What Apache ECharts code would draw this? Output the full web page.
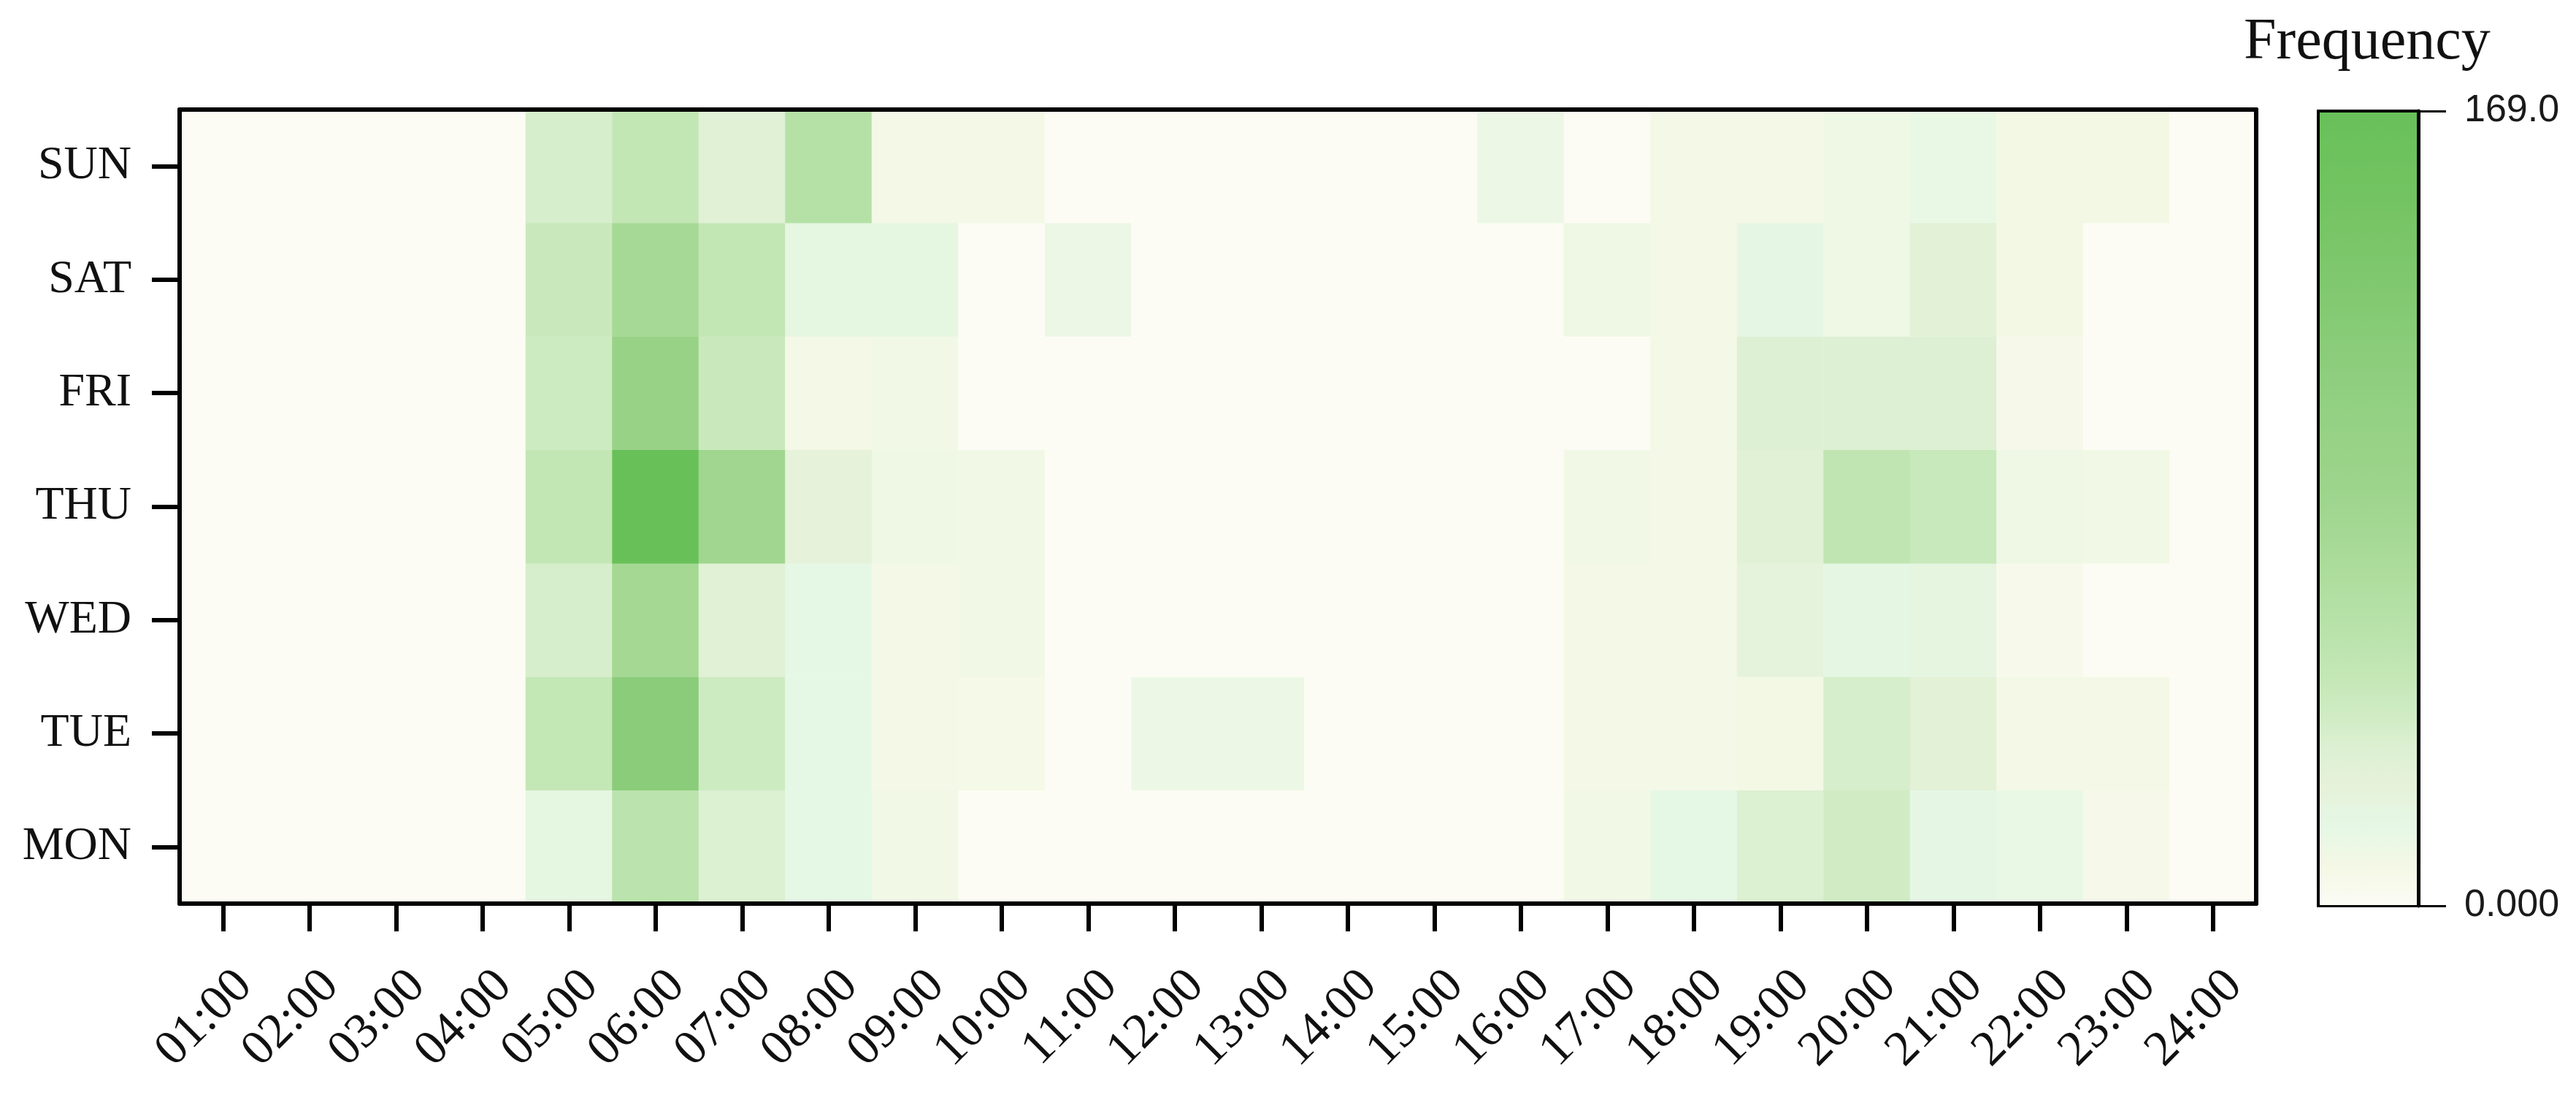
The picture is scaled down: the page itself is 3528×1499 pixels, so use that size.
<!DOCTYPE html>
<html>
<head>
<meta charset="utf-8">
<title>Frequency heatmap</title>
<script src="https://cdn.jsdelivr.net/npm/echarts@6/dist/echarts.min.js"></script>
<style>
  html, body { margin: 0; padding: 0; background: #fff; }
  #main { width: 3528px; height: 1499px; }
</style>
</head>
<body>
<div id="main"></div>
<script>
// categories
const hours = ['01:00', '02:00', '03:00', '04:00', '05:00', '06:00', '07:00', '08:00',
  '09:00', '10:00', '11:00', '12:00', '13:00', '14:00', '15:00', '16:00',
  '17:00', '18:00', '19:00', '20:00', '21:00', '22:00', '23:00', '24:00'];
const days = ['MON', 'TUE', 'WED', 'THU', 'FRI', 'SAT', 'SUN'];

// frequency per hour, one array per day
const mon = [0, 0, 0, 0, 20, 57, 34, 17, 10, 0, 0, 0, 0, 0, 0, 0, 10, 17, 34, 40, 18, 15, 6, 0];
const tue = [0, 0, 0, 0, 49, 118, 42, 17, 8, 7, 0, 13, 13, 0, 0, 0, 8, 8, 9, 37, 28, 8, 8, 0];
const wed = [0, 0, 0, 0, 37, 80, 30, 17, 8, 10, 0, 0, 0, 0, 0, 0, 8, 8, 24, 19, 21, 5, 0, 0];
const thu = [0, 0, 0, 0, 50, 169, 85, 25, 12, 10, 0, 0, 0, 0, 0, 0, 10, 8, 30, 52, 46, 12, 10, 0];
const fri = [0, 0, 0, 0, 42, 98, 45, 8, 10, 0, 0, 0, 0, 0, 0, 0, 0, 8, 32, 32, 32, 6, 0, 0];
const sat = [0, 0, 0, 0, 45, 78, 50, 20, 20, 0, 13, 0, 0, 0, 0, 0, 11, 8, 18, 12, 28, 9, 0, 0];
const sun = [0, 0, 0, 0, 37, 50, 30, 62, 8, 8, 0, 0, 0, 0, 0, 13, 0, 8, 8, 12, 15, 9, 9, 0];
const freqByDay = [mon, tue, wed, thu, fri, sat, sun];

const maxFreq = 169;
const legendTicks = ['0.000', '169.0'];

const palette = ['#fcfcf4', '#f4f8e5', '#e5f8e5', '#e6f2da', '#dcf0d2', '#cdebc0',
  '#c2e6b4', '#b8e2aa', '#b0dea0', '#a8da97', '#a0d68f', '#9ad389', '#96d285',
  '#90cf80', '#8acc7a', '#84ca73', '#7ec76d', '#78c566', '#72c361', '#6dc25d', '#68c059'];

const heatData = [];
freqByDay.forEach(function (row, d) {
  row.forEach(function (v, h) {
    heatData.push([h, d, v]);
  });
});

const black = '#000';
const frameLine = { show: true, onZero: false, lineStyle: { color: black, width: 6 } };

const chart = echarts.init(document.getElementById('main'));

const option = {
  backgroundColor: '#ffffff',
  animation: false,
  title: {
    text: 'Frequency',
    left: 3068,
    top: 14,
    textStyle: {
      fontFamily: 'Liberation Serif',
      fontWeight: 'normal',
      fontSize: 80,
      color: '#111'
    }
  },
  grid: [
    { left: 246, top: 150, width: 2844, height: 1087 },
    {
      left: 3175, top: 152, width: 137, height: 1088,
      show: true, borderColor: black, borderWidth: 4, backgroundColor: 'transparent'
    }
  ],
  xAxis: [
    {
      type: 'category',
      gridIndex: 0,
      data: hours,
      z: 10,
      axisLine: frameLine,
      axisTick: { show: true, alignWithLabel: true, length: 38, lineStyle: { color: black, width: 6 } },
      axisLabel: {
        show: true,
        rotate: 45,
        margin: 73,
        interval: 0,
        lineHeight: 84,
        fontFamily: 'Liberation Serif',
        fontSize: 68,
        color: '#111',
        // leading blank line pushes the text down along the slant
        formatter: function (v) { return '\n' + v; }
      },
      splitLine: { show: false }
    },
    {
      type: 'category',
      gridIndex: 0,
      data: hours,
      position: 'top',
      z: 10,
      axisLine: frameLine,
      axisTick: { show: false },
      axisLabel: { show: false },
      splitLine: { show: false }
    },
    {
      type: 'value',
      gridIndex: 1,
      show: false,
      min: 0,
      max: 1
    }
  ],
  yAxis: [
    {
      type: 'category',
      gridIndex: 0,
      data: days,
      z: 10,
      axisLine: frameLine,
      axisTick: { show: true, alignWithLabel: true, length: 38, lineStyle: { color: black, width: 6 } },
      axisLabel: {
        show: true,
        margin: 66,
        fontFamily: 'Liberation Serif',
        fontSize: 64,
        color: '#111'
      },
      splitLine: { show: false }
    },
    {
      type: 'category',
      gridIndex: 0,
      data: days,
      position: 'right',
      z: 10,
      axisLine: frameLine,
      axisTick: { show: false },
      axisLabel: { show: false },
      splitLine: { show: false }
    },
    {
      type: 'value',
      gridIndex: 1,
      position: 'right',
      min: 0,
      max: maxFreq,
      interval: maxFreq,
      z: 10,
      axisLine: { show: true, onZero: false, lineStyle: { color: black, width: 5 } },
      axisTick: { show: true, length: 38, lineStyle: { color: black, width: 3 } },
      splitLine: { show: true, lineStyle: { color: black, width: 3 } },
      axisLabel: {
        show: true,
        margin: 63,
        fontFamily: 'Liberation Sans',
        fontSize: 52,
        color: '#1a1a1a',
        formatter: function (v) {
          return v === 0 ? legendTicks[0] : legendTicks[1];
        }
      }
    }
  ],
  visualMap: {
    type: 'continuous',
    min: 0,
    max: maxFreq,
    seriesIndex: 0,
    calculable: false,
    orient: 'vertical',
    left: 3177,
    top: 152,
    padding: 0,
    itemWidth: 134,
    itemHeight: 1088,
    z: 1,
    textStyle: { fontSize: 0 },
    inRange: { color: palette }
  },
  series: [
    {
      type: 'heatmap',
      xAxisIndex: 0,
      yAxisIndex: 0,
      data: heatData,
      z: 1,
      itemStyle: { borderWidth: 0 }
    }
  ]
};

chart.setOption(option);
</script>
</body>
</html>
